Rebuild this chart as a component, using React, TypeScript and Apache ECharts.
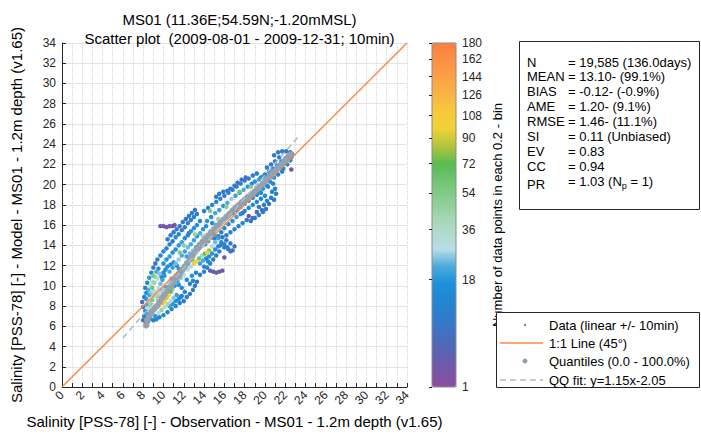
import React, { useEffect, useRef } from 'react';
import * as echarts from 'echarts';

const FONT = 'Arial, "Liberation Sans", Helvetica, sans-serif';

const titleLines = ['MS01 (11.36E;54.59N;-1.20mMSL)', 'Scatter plot  (2009-08-01 - 2009-12-31; 10min)'];
const xAxisName = 'Salinity [PSS-78] [-] - Observation - MS01 - 1.2m depth (v1.65)';
const yAxisName = 'Salinity [PSS-78] [-] - Model - MS01 - 1.2m depth (v1.65)';
const colorbarName = 'Number of data points in each 0.2 - bin';
const colorbarTicks = [1, 18, 36, 54, 72, 90, 108, 126, 144, 162, 180];
const colorPower = 0.4;
const colormap = [
  '#8c4ca0', '#7656a8', '#5c62b2', '#4470c0', '#2e7ccb', '#2286d2', '#1c90d8', '#4aaadc',
  '#b8dce6', '#b0dccc', '#a0d4ac', '#88cc90', '#70c470', '#58bc50', '#b4c43c', '#f0d238',
  '#f8c83c', '#fab444', '#fba046', '#fb9044', '#fb8040',
];

const statLabels = ['N', 'MEAN', 'BIAS', 'AME', 'RMSE', 'SI', 'EV', 'CC', 'PR'];
const statValues = [
  '= 19,585 (136.0days)', '= 13.10- (99.1%)', '= -0.12- (-0.9%)', '= 1.20- (9.1%)',
  '= 1.46- (11.1%)', '= 0.11 (Unbiased)', '= 0.83', '= 0.94', '{v|= 1.03 (N}{s|p}{v| = 1)}',
];
const legendLabels = ['Data (linear +/- 10min)', '1:1 Line (45°)', 'Quantiles (0.0 - 100.0%)', 'QQ fit: y=1.15x-2.05'];

// [observation, model, count per 0.2-bin]
const cloudLower = [
  [8.0, 6.6, 6], [8.1, 7.0, 9], [8.2, 7.5, 14], [8.0, 7.9, 8], [7.9, 8.4, 6], [8.1, 8.9, 10], [8.3, 9.3, 16],
  [8.2, 9.8, 12], [8.4, 10.3, 14], [8.6, 10.8, 18], [8.8, 11.3, 12], [9.0, 11.8, 9], [9.2, 12.2, 7],
  [8.5, 7.8, 30], [8.7, 8.2, 45], [8.9, 8.6, 55], [9.1, 9.0, 40], [9.3, 9.4, 35], [9.5, 9.8, 28], [9.7, 10.2, 24],
  [9.9, 10.6, 20], [10.1, 11.0, 18],
  [8.8, 7.2, 25], [9.0, 7.6, 60], [9.3, 7.9, 85], [9.6, 8.1, 110], [9.9, 8.3, 120], [10.1, 8.5, 105],
  [10.3, 8.8, 90], [10.5, 9.1, 100], [10.7, 9.4, 70], [10.9, 9.7, 50],
  [9.2, 7.0, 18], [9.5, 7.3, 30], [9.8, 7.6, 45], [10.1, 7.9, 35], [10.4, 8.2, 40], [10.7, 8.5, 30],
  [11.0, 8.8, 25], [11.3, 9.1, 20],
  [9.6, 6.9, 12], [10.0, 7.1, 14], [10.4, 7.4, 12], [10.8, 7.7, 15], [11.2, 8.0, 12], [11.6, 8.3, 10],
  [12.0, 8.5, 9], [12.3, 8.9, 10], [12.1, 9.4, 12], [11.8, 9.8, 14], [11.5, 10.1, 16],
  [8.9, 9.8, 60], [9.1, 10.3, 45], [9.4, 10.7, 30], [9.0, 11.0, 55], [9.6, 11.2, 25],
  [10.2, 9.9, 22], [10.5, 10.3, 28], [10.8, 10.7, 20], [11.1, 10.0, 18], [11.4, 10.4, 22], [11.7, 10.8, 25],
  [12.0, 11.1, 30], [12.3, 10.6, 16], [12.6, 10.2, 12], [12.9, 10.5, 14], [12.8, 11.0, 18], [11.7, 8.9, 3],
  [8.6, 9.1, 20], [8.8, 9.3, 25], [9.0, 9.5, 30], [9.2, 9.2, 35], [9.4, 9.0, 40], [9.6, 9.3, 30], [9.8, 9.6, 25],
  [10.0, 9.4, 30], [10.2, 9.1, 45], [10.4, 9.4, 35],
  [9.8, 10.9, 14], [10.0, 11.3, 12], [10.2, 11.6, 14], [10.4, 11.9, 16], [10.7, 12.1, 14], [11.0, 12.3, 12],
  [11.3, 12.0, 14], [11.5, 11.7, 18], [11.7, 11.4, 20],
  [8.4, 8.1, 22], [8.6, 8.5, 28], [8.3, 8.7, 18], [8.5, 9.6, 22], [8.7, 10.0, 30], [8.9, 10.4, 35], [9.2, 10.9, 40],
  [9.3, 11.4, 22], [9.5, 11.7, 16],
  [10.6, 8.0, 20], [10.9, 8.2, 18], [11.2, 8.5, 16], [11.5, 8.7, 14], [11.8, 9.0, 12], [12.6, 9.2, 8], [12.9, 9.6, 9],
  [13.1, 10.0, 8], [13.3, 10.4, 7],
  [8.3, 6.3, 10], [8.5, 6.5, 14], [8.7, 6.8, 16], [9.0, 6.6, 10], [9.3, 6.7, 12], [8.4, 7.2, 20], [8.6, 7.6, 25],
];
const cloudMiddle = [
  [9.4, 12.6, 10], [9.7, 13.0, 12], [10.0, 13.4, 14], [10.3, 13.7, 12], [10.6, 14.1, 10], [10.9, 14.4, 12],
  [11.2, 14.8, 14], [11.5, 15.1, 12], [11.8, 15.5, 10], [12.1, 15.8, 9], [12.4, 16.2, 8], [12.7, 16.5, 10],
  [13.0, 16.8, 12], [13.3, 17.1, 10],
  [10.0, 12.2, 16], [10.3, 12.6, 18], [10.6, 12.9, 20], [10.9, 13.3, 16], [11.2, 13.6, 15], [11.5, 14.0, 18],
  [11.8, 14.3, 20], [12.1, 14.7, 16], [12.4, 15.0, 15], [12.7, 15.4, 18], [13.0, 15.7, 16], [13.3, 16.0, 15],
  [13.6, 16.4, 14],
  [10.6, 11.4, 22], [10.9, 11.8, 20], [11.2, 12.2, 24], [11.5, 12.6, 26], [11.8, 13.0, 22], [12.1, 13.4, 20],
  [12.4, 13.8, 24], [12.7, 14.1, 22], [13.0, 14.5, 20], [13.3, 14.9, 18], [13.6, 15.2, 22], [13.9, 15.6, 18],
  [14.2, 15.9, 16],
  [12.4, 11.6, 28], [12.7, 11.9, 32], [13.0, 12.2, 95], [13.2, 12.4, 105], [13.5, 12.7, 60], [13.8, 13.0, 40],
  [14.1, 13.2, 70], [14.3, 13.3, 95], [14.5, 13.5, 80], [14.8, 13.9, 32], [15.1, 14.3, 24], [15.4, 14.7, 20],
  [13.2, 11.3, 12], [13.6, 11.1, 10], [14.0, 11.4, 9], [14.3, 11.8, 11], [14.6, 12.2, 12], [14.9, 12.6, 10],
  [15.2, 13.0, 11], [15.5, 13.4, 12], [15.0, 14.7, 12], [15.4, 14.9, 10], [15.8, 14.8, 9], [16.2, 14.5, 10],
  [16.6, 14.2, 8], [17.0, 13.9, 7], [16.8, 13.5, 6], [16.4, 13.6, 8], [16.0, 13.8, 9], [15.6, 14.0, 10],
  [14.6, 11.5, 4], [14.9, 11.4, 3], [15.2, 11.3, 4], [15.5, 11.4, 3], [15.8, 11.5, 2],
  [9.7, 15.9, 2], [10.0, 15.9, 3], [10.3, 15.8, 2], [10.6, 15.9, 3], [10.9, 15.9, 2], [11.1, 16.0, 2],
  [12.5, 15.2, 2], [16.0, 12.8, 2],
  [10.4, 14.6, 9], [10.7, 15.0, 10], [11.0, 15.3, 8], [11.3, 15.6, 9], [11.6, 15.9, 10], [11.9, 16.3, 8],
  [12.2, 16.6, 7], [12.5, 16.9, 8], [12.8, 17.2, 9], [13.1, 17.5, 8],
  [12.3, 12.9, 20], [12.6, 13.2, 24], [12.9, 13.5, 26], [13.2, 13.8, 22], [13.5, 14.1, 20], [13.8, 14.4, 18],
  [14.1, 14.1, 16], [14.4, 14.4, 20], [14.7, 14.8, 16], [15.0, 15.1, 15],
  [11.6, 13.3, 55], [12.0, 14.0, 50], [13.1, 15.1, 45], [13.9, 14.9, 40], [12.8, 12.6, 60],
  [14.2, 12.7, 14], [14.5, 12.9, 16], [14.8, 13.2, 18], [15.1, 13.6, 15], [15.4, 13.9, 12], [15.7, 14.3, 14],
  [16.0, 14.1, 10], [16.3, 13.8, 9], [16.6, 13.4, 8],
  [13.6, 12.2, 20], [13.9, 12.5, 22], [14.0, 11.9, 12], [14.4, 12.4, 15],
];
const cloudUpper = [
  [14.0, 17.4, 10], [14.4, 17.7, 12], [14.8, 18.0, 14], [15.2, 18.3, 12], [15.6, 18.6, 10], [16.0, 18.9, 9],
  [16.4, 19.2, 10], [16.8, 19.5, 8], [17.2, 19.8, 9], [17.6, 20.1, 10], [18.0, 20.4, 8], [18.4, 20.6, 7],
  [18.8, 20.9, 9], [19.2, 21.1, 10],
  [14.6, 17.4, 55], [17.5, 19.3, 60],
  [14.3, 16.4, 18], [14.7, 16.8, 16], [15.1, 17.2, 22], [15.5, 17.5, 20], [15.9, 17.9, 18], [16.3, 18.2, 22],
  [16.7, 18.6, 26], [17.1, 18.9, 20], [17.5, 19.2, 18], [17.9, 19.5, 22], [18.3, 19.8, 18], [18.7, 20.1, 16],
  [15.7, 15.3, 12], [16.0, 15.7, 14], [16.4, 16.1, 15], [16.8, 16.4, 18], [17.2, 16.8, 20], [17.6, 17.1, 15],
  [18.0, 17.4, 12], [18.4, 17.7, 14], [18.8, 18.0, 15], [19.2, 18.3, 12], [19.6, 18.6, 14], [20.0, 18.9, 15],
  [19.4, 19.3, 16], [19.8, 19.6, 18], [20.2, 19.9, 15],
  [20.3, 19.8, 10], [20.7, 19.3, 12], [20.6, 18.7, 10], [20.4, 18.1, 9], [20.1, 17.6, 8], [19.7, 17.5, 7],
  [19.4, 17.8, 8], [19.2, 17.3, 6],
  [18.4, 16.9, 3], [18.8, 16.7, 2], [17.8, 17.2, 3],
  [14.8, 16.2, 16], [15.2, 16.0, 14], [15.6, 16.3, 18], [16.0, 16.6, 20], [16.4, 16.9, 18], [16.8, 17.2, 16],
  [17.2, 17.5, 19], [17.6, 17.8, 18], [18.0, 18.1, 16], [18.4, 18.4, 18], [18.8, 18.7, 16], [19.2, 19.0, 15],
  [19.6, 19.2, 14],
  [15.2, 18.8, 8], [15.5, 19.1, 9], [15.9, 19.3, 7], [16.3, 19.4, 8], [16.6, 19.6, 9], [17.0, 19.9, 7],
  [17.3, 20.2, 8], [17.7, 20.5, 6], [18.1, 20.7, 7],
  [16.2, 15.0, 10], [16.6, 15.3, 12], [17.0, 15.6, 11], [17.4, 15.9, 10], [17.8, 16.2, 12], [18.2, 16.5, 10],
  [18.6, 16.4, 8], [19.0, 16.7, 9], [19.4, 17.0, 8], [19.8, 17.3, 7],
  [19.0, 20.3, 18], [19.4, 20.5, 20], [19.8, 20.8, 18], [18.6, 19.8, 55], [16.2, 17.8, 50], [15.4, 16.6, 45],
  [20.8, 20.1, 12], [21.0, 19.6, 10], [21.1, 19.1, 9], [20.9, 18.5, 8], [20.2, 18.4, 10], [19.9, 18.0, 9],
];
const cloudTop = [
  [19.6, 20.7, 12], [20.0, 21.0, 12], [20.4, 21.3, 14], [20.8, 21.6, 16], [21.2, 21.9, 18], [21.6, 22.3, 20],
  [22.0, 22.6, 22], [22.4, 22.9, 25],
  [21.0, 22.3, 10], [21.4, 22.7, 9], [20.6, 22.0, 8], [20.2, 21.7, 9],
  [21.8, 21.6, 14], [22.2, 22.0, 16], [22.5, 22.4, 12], [20.5, 20.3, 15], [20.9, 20.7, 18], [21.3, 21.0, 12],
  [21.7, 21.3, 11],
  [20.9, 22.9, 8], [21.3, 23.2, 9], [21.7, 23.3, 10], [22.1, 23.3, 8], [22.5, 23.2, 7], [22.6, 21.5, 2],
  [21.5, 22.0, 22], [21.9, 22.2, 24], [22.3, 22.5, 20], [22.6, 22.7, 14], [22.7, 23.0, 10],
  [20.4, 20.9, 18], [20.7, 21.2, 20], [21.1, 21.5, 18], [21.4, 21.8, 16],
];

// quantile pairs [observation, model]
const quantiles = [
  [8.3, 6.1], [8.4, 6.6], [8.6, 7.0], [8.85, 7.4], [9.1, 7.75], [9.35, 8.0], [9.6, 8.4], [9.85, 8.8],
  [10.1, 9.15], [10.35, 9.5], [10.6, 9.85], [10.85, 10.2], [11.1, 10.55], [11.35, 10.9], [11.6, 11.2],
  [11.85, 11.55], [12.1, 11.9], [12.35, 12.25], [12.6, 12.6], [12.85, 12.95], [13.1, 13.3], [13.35, 13.65],
  [13.6, 14.0], [13.85, 14.3], [14.1, 14.6], [14.4, 14.95], [14.7, 15.3], [15.0, 15.6], [15.3, 15.9],
  [15.6, 16.2], [15.9, 16.5], [16.2, 16.8], [16.5, 17.1], [16.8, 17.4], [17.1, 17.7], [17.4, 17.95],
  [17.7, 18.25], [18.0, 18.5], [18.3, 18.75], [18.6, 19.0], [18.9, 19.25], [19.2, 19.5], [19.5, 19.8],
  [19.8, 20.1], [20.1, 20.4], [20.4, 20.75], [20.7, 21.1], [21.0, 21.4], [21.3, 21.7], [21.6, 22.0],
  [21.9, 22.3], [22.15, 22.6], [22.4, 22.85], [22.55, 23.0],
];
const oneToOneLine = [[0, 0], [34, 34]];
const qqFitLine = [[6, 4.85], [23.2, 24.63]];

const tf = (c: number) => Math.pow(c, colorPower);

export default function App() {
  const ref = useRef<HTMLDivElement>(null);
  useEffect(() => {
    if (!ref.current) return;
    const chart = echarts.init(ref.current, undefined, { renderer: 'svg' });
    const tMax = tf(180);
    const cbT = colorbarTicks.map(tf);
    const cloud = [...cloudLower, ...cloudMiddle, ...cloudUpper, ...cloudTop]
      .map(([x, y, c]) => [x, y, c, tf(c)])
      .sort((a, b) => a[2] - b[2]);
    const axisColor = '#262626';
    const rowY = [62, 76, 91, 106, 121, 136, 151, 166, 181];
    const graphic: any[] = [];
    graphic.push({ type: 'rect', shape: { x: 519.5, y: 41.5, width: 180, height: 168 }, style: { fill: '#fff', stroke: axisColor, lineWidth: 1 }, z: 50 });
    statLabels.forEach((l, i) => {
      graphic.push({ type: 'text', x: 527, y: rowY[i] + (i === 8 ? 3 : 0), z: 51, style: { text: l, fontSize: 13, fontFamily: FONT, fill: '#000', verticalAlign: 'middle' } });
      graphic.push({
        type: 'text', x: 568, y: rowY[i], z: 51,
        style: {
          text: statValues[i], fontSize: 13, fontFamily: FONT, fill: '#000', verticalAlign: 'middle',
          rich: { v: { fontSize: 13, fontFamily: FONT, fill: '#000' }, s: { fontSize: 9, fontFamily: FONT, fill: '#000', padding: [9, 0, 0, 0] } },
        },
      });
    });
    // legend box
    graphic.push({ type: 'rect', shape: { x: 496.5, y: 312.5, width: 203, height: 75 }, style: { fill: '#fff', stroke: axisColor, lineWidth: 1 }, z: 50 });
    const ly = [325, 343, 361, 380];
    graphic.push({ type: 'circle', shape: { cx: 525, cy: ly[0], r: 1 }, style: { fill: '#7a4fa6' }, z: 51 });
    graphic.push({ type: 'line', shape: { x1: 500, y1: ly[1], x2: 543, y2: ly[1] }, style: { stroke: '#fb8a4c', lineWidth: 1.5 }, z: 51 });
    graphic.push({ type: 'circle', shape: { cx: 525, cy: ly[2], r: 2 }, style: { fill: '#95a3b3', stroke: '#6f87a0', lineWidth: 0.8 }, z: 51 });
    graphic.push({ type: 'line', shape: { x1: 500, y1: ly[3], x2: 543, y2: ly[3] }, style: { stroke: '#a7bccf', lineWidth: 1.5, lineDash: [6, 4] }, z: 51 });
    legendLabels.forEach((t, i) => {
      graphic.push({ type: 'text', x: 549, y: ly[i], z: 51, style: { text: t, fontSize: 13, fontFamily: FONT, fill: '#000', verticalAlign: 'middle' } });
    });

    const option: any = {
      animation: false,
      backgroundColor: '#fff',
      textStyle: { fontFamily: FONT },
      title: {
        text: titleLines.join('\n'), left: 234.5, textAlign: 'center', top: 5,
        textStyle: { fontSize: 15, fontWeight: 'normal', color: '#000', lineHeight: 19, fontFamily: FONT },
      },
      grid: [
        { left: 62, top: 43, width: 345, height: 344 },
        { left: 432, top: 43, width: 24, height: 344, show: true, borderColor: '#8c8c8c', borderWidth: 1, z: 10 },
      ],
      xAxis: [
        {
          gridIndex: 0, type: 'value', min: 0, max: 34, interval: 2,
          name: xAxisName, nameLocation: 'middle', nameGap: 26,
          nameTextStyle: { fontSize: 15, color: '#000', fontFamily: FONT },
          axisLine: { show: true, onZero: false, lineStyle: { color: axisColor } },
          axisTick: { show: true, inside: true, length: 4, lineStyle: { color: axisColor } },
          minorTick: { show: true, splitNumber: 2, length: 4, lineStyle: { color: axisColor } },
          axisLabel: { rotate: 45, fontSize: 12, color: axisColor, margin: 6, fontFamily: FONT },
          splitLine: { show: true, lineStyle: { color: '#d4d4d4', type: 'dotted' } },
          minorSplitLine: { show: true, lineStyle: { color: '#d4d4d4', type: 'dotted' } },
        },
        { gridIndex: 1, type: 'value', min: 0, max: 1, show: false },
      ],
      yAxis: [
        {
          gridIndex: 0, type: 'value', min: 0, max: 34, interval: 2,
          name: yAxisName, nameLocation: 'middle', nameGap: 38,
          nameTextStyle: { fontSize: 15, color: '#000', fontFamily: FONT },
          axisLine: { show: true, onZero: false, lineStyle: { color: axisColor } },
          axisTick: { show: true, inside: true, length: 4, lineStyle: { color: axisColor } },
          axisLabel: { fontSize: 12, color: axisColor, margin: 6, fontFamily: FONT },
          splitLine: { show: true, lineStyle: { color: '#e4e4e4', type: 'solid' } },
        },
        {
          gridIndex: 1, type: 'value', min: 1, max: tMax, position: 'right',
          name: colorbarName, nameLocation: 'middle', nameGap: 35, nameRotate: 90,
          nameTextStyle: { fontSize: 13, color: '#000', fontFamily: FONT },
          axisLine: { show: false },
          axisTick: { show: true, inside: true, length: 3, customValues: cbT, lineStyle: { color: axisColor } },
          axisLabel: {
            customValues: cbT, fontSize: 12, color: axisColor, margin: 6, fontFamily: FONT,
            formatter: (v: number) => {
              let best = 0;
              cbT.forEach((t, i) => { if (Math.abs(t - v) < Math.abs(cbT[best] - v)) best = i; });
              return String(colorbarTicks[best]);
            },
          },
          splitLine: { show: false },
          z: 12,
        },
      ],
      visualMap: {
        type: 'continuous', show: true, seriesIndex: 0, dimension: 3, min: 1, max: tMax,
        left: 432, top: 43, itemWidth: 24, itemHeight: 344, padding: 0, text: null,
        calculable: false, hoverLink: false, realtime: false,
        inRange: { color: colormap },
      },
      series: [
        {
          type: 'scatter', name: legendLabels[0], data: cloud, symbolSize: 4.5,
          xAxisIndex: 0, yAxisIndex: 0, z: 2, itemStyle: { opacity: 1 },
        },
        {
          type: 'line', name: legendLabels[1], data: oneToOneLine, symbol: 'none',
          xAxisIndex: 0, yAxisIndex: 0, z: 3, lineStyle: { color: '#fb8a4c', width: 1.5 },
        },
        {
          type: 'scatter', name: legendLabels[2], data: quantiles, symbolSize: 6,
          xAxisIndex: 0, yAxisIndex: 0, z: 4,
          itemStyle: { color: '#96a2ae', borderColor: '#8a98a8', borderWidth: 0.5, opacity: 1 },
        },
        {
          type: 'line', name: legendLabels[3], data: qqFitLine, symbol: 'none',
          xAxisIndex: 0, yAxisIndex: 0, z: 5, lineStyle: { color: '#a7bccf', width: 1.5, type: [6, 4] },
        },
      ],
      graphic,
    };
    chart.setOption(option);
    return () => chart.dispose();
  }, []);
  return <div ref={ref} style={{ position: 'fixed', left: 0, top: 0, width: 701, height: 435, background: '#fff' }} />;
}
